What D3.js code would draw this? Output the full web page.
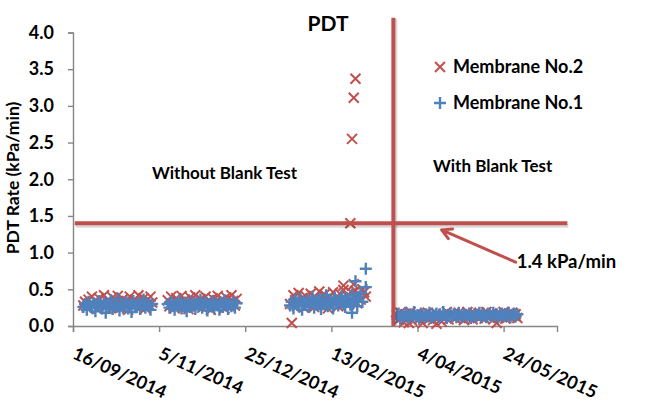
<!DOCTYPE html>
<html><head><meta charset="utf-8">
<script src="https://cdn.jsdelivr.net/npm/d3@7"></script>
<style>
body{margin:0;background:#fff}
text{font-family:Lato,"Open Sans",sans-serif;font-weight:bold;fill:#000}
</style>
</head><body><svg id="c" width="668" height="402"></svg>
<script>
// ---------- data ----------
const xTickLabels = ["16/09/2014","5/11/2014","25/12/2014","13/02/2015","4/04/2015","24/05/2015"];
const yTicks = [0,0.5,1,1.5,2,2.5,3,3.5,4];
const seriesNames = ["Membrane No.2","Membrane No.1"];

const datesA = ["2014-09-22","2014-09-23","2014-09-24","2014-09-25","2014-09-26","2014-09-27","2014-09-28","2014-09-29","2014-09-30","2014-10-01",
"2014-10-02","2014-10-03","2014-10-04","2014-10-05","2014-10-06","2014-10-07","2014-10-08","2014-10-09","2014-10-10","2014-10-11",
"2014-10-12","2014-10-13","2014-10-14","2014-10-15","2014-10-16","2014-10-17","2014-10-18","2014-10-19","2014-10-20","2014-10-21",
"2014-10-22","2014-10-23","2014-10-24","2014-10-25","2014-10-26","2014-10-27","2014-10-28","2014-10-29","2014-10-30","2014-10-31",
"2014-11-01"];
const m2A = [0.28,0.33,0.25,0.36,0.30,0.40,0.27,0.34,0.23,0.38,
0.31,0.29,0.42,0.26,0.35,0.32,0.24,0.39,0.30,0.28,
0.41,0.33,0.25,0.37,0.29,0.34,0.22,0.40,0.31,0.27,
0.36,0.30,0.42,0.26,0.33,0.38,0.24,0.35,0.29,0.40,
0.32];
const m1A = [0.26,0.30,0.22,0.33,0.28,0.25,0.31,0.20,0.29,0.34,
0.27,0.24,0.32,0.18,0.30,0.26,0.35,0.23,0.29,0.27,
0.37,0.21,0.31,0.25,0.28,0.33,0.24,0.30,0.19,0.34,
0.27,0.26,0.32,0.23,0.29,0.36,0.25,0.31,0.28,0.22,
0.30];

const datesB = ["2014-11-10","2014-11-11","2014-11-12","2014-11-13","2014-11-14","2014-11-15","2014-11-16","2014-11-17","2014-11-18","2014-11-19",
"2014-11-20","2014-11-21","2014-11-22","2014-11-23","2014-11-24","2014-11-25","2014-11-26","2014-11-27","2014-11-28","2014-11-29",
"2014-11-30","2014-12-01","2014-12-02","2014-12-03","2014-12-04","2014-12-05","2014-12-06","2014-12-07","2014-12-08","2014-12-09",
"2014-12-10","2014-12-11","2014-12-12","2014-12-13","2014-12-14","2014-12-15","2014-12-16","2014-12-17","2014-12-18","2014-12-19",
"2014-12-20"];
const m2B = [0.35,0.27,0.40,0.30,0.24,0.38,0.33,0.28,0.41,0.26,
0.36,0.31,0.23,0.39,0.29,0.34,0.42,0.27,0.32,0.37,
0.25,0.30,0.40,0.28,0.35,0.22,0.38,0.31,0.26,0.41,
0.33,0.29,0.36,0.24,0.39,0.30,0.27,0.42,0.34,0.28,
0.37];
const m1B = [0.30,0.25,0.33,0.28,0.22,0.31,0.27,0.35,0.24,0.29,
0.32,0.20,0.30,0.26,0.34,0.28,0.23,0.31,0.27,0.36,
0.25,0.29,0.33,0.21,0.30,0.27,0.34,0.24,0.31,0.28,
0.22,0.32,0.26,0.35,0.29,0.23,0.30,0.27,0.33,0.25,
0.31];

const datesC = ["2015-01-20","2015-01-21","2015-01-22","2015-01-23","2015-01-24","2015-01-25","2015-01-26","2015-01-27","2015-01-28","2015-01-29",
"2015-01-30","2015-01-31","2015-02-01","2015-02-02","2015-02-03","2015-02-04","2015-02-05","2015-02-06","2015-02-07","2015-02-08",
"2015-02-09","2015-02-10","2015-02-11","2015-02-12","2015-02-13","2015-02-14","2015-02-15","2015-02-16","2015-02-17","2015-02-18",
"2015-02-19","2015-02-20","2015-02-21","2015-02-22","2015-02-23","2015-02-24","2015-02-25","2015-02-26","2015-02-27","2015-02-28",
"2015-03-01","2015-03-02","2015-03-03"];
const m2C = [0.30,0.04,0.42,0.35,0.27,0.45,0.32,0.38,0.25,0.41,
0.29,0.36,0.44,0.31,0.26,0.39,0.34,0.47,0.28,0.37,
0.43,0.33,0.24,0.40,0.36,0.46,0.30,0.38,0.27,0.44,
0.35,0.49,0.32,0.41,0.29,0.37,0.45,0.34,0.48,0.31,
0.43,0.36,0.50];
const m1C = [0.28,0.33,0.24,0.36,0.30,0.27,0.38,0.22,0.32,0.29,
0.35,0.26,0.31,0.40,0.25,0.34,0.29,0.37,0.23,0.33,
0.30,0.42,0.27,0.36,0.31,0.24,0.39,0.33,0.28,0.35,
0.41,0.30,0.26,0.38,0.34,0.29,0.43,0.32,0.36,0.27,
0.40,0.45,0.33];

const extra2Dates = ["2015-02-24","2015-02-25","2015-02-26","2015-02-27","2015-02-20","2015-02-26","2015-03-04","2015-03-05"];
const extra2Values = [1.40,2.55,3.11,3.37,0.55,0.57,0.46,0.40];
const extra1Dates = ["2015-02-25","2015-02-27","2015-03-05","2015-03-05"];
const extra1Values = [0.18,0.61,0.53,0.78];

const datesD = ["2015-03-23","2015-03-24","2015-03-25","2015-03-26","2015-03-27","2015-03-28","2015-03-29","2015-03-30","2015-03-31","2015-04-01",
"2015-04-02","2015-04-03","2015-04-04","2015-04-05","2015-04-06","2015-04-07","2015-04-08","2015-04-09","2015-04-10","2015-04-11",
"2015-04-12","2015-04-13","2015-04-14","2015-04-15","2015-04-16","2015-04-17","2015-04-18","2015-04-19","2015-04-20","2015-04-21",
"2015-04-22","2015-04-23","2015-04-24","2015-04-25","2015-04-26","2015-04-27","2015-04-28","2015-04-29","2015-04-30","2015-05-01",
"2015-05-02","2015-05-03","2015-05-04","2015-05-05","2015-05-06","2015-05-07","2015-05-08","2015-05-09","2015-05-10","2015-05-11",
"2015-05-12","2015-05-13","2015-05-14","2015-05-15","2015-05-16","2015-05-17","2015-05-18","2015-05-19","2015-05-20","2015-05-21",
"2015-05-22","2015-05-23","2015-05-24","2015-05-25","2015-05-26","2015-05-27","2015-05-28","2015-05-29","2015-05-30","2015-05-31",
"2015-06-01"];
const m2D = [0.15,0.08,0.18,0.12,0.05,0.16,0.10,0.04,0.19,0.07,
0.14,0.11,0.17,0.09,0.13,0.04,0.16,0.12,0.18,0.10,
0.15,0.08,0.13,0.03,0.11,0.14,0.06,0.16,0.12,0.19,
0.09,0.15,0.13,0.17,0.10,0.14,0.18,0.11,0.16,0.08,
0.13,0.19,0.12,0.15,0.09,0.17,0.14,0.11,0.18,0.13,
0.16,0.10,0.19,0.14,0.12,0.17,0.09,0.15,0.04,0.11,
0.16,0.13,0.19,0.10,0.15,0.17,0.12,0.18,0.14,0.16,
0.11];
const m1D = [0.13,0.17,0.10,0.15,0.12,0.18,0.14,0.11,0.16,0.13,
0.19,0.12,0.15,0.10,0.17,0.14,0.12,0.16,0.13,0.18,
0.11,0.15,0.14,0.17,0.12,0.16,0.13,0.19,0.15,0.11,
0.14,0.17,0.12,0.16,0.15,0.13,0.18,0.14,0.12,0.16,
0.15,0.13,0.17,0.11,0.14,0.16,0.12,0.15,0.18,0.13,
0.16,0.14,0.12,0.17,0.15,0.13,0.18,0.14,0.16,0.12,
0.15,0.17,0.13,0.16,0.14,0.18,0.12,0.15,0.17,0.13,
0.16];

// annotation values
const threshold = 1.4;
const thresholdSpan = ["2014-09-17","2015-06-30"];
const dividerDate = "2015-03-21";
const dividerTop = 4.2;
const arrowFrom = ["2015-05-31", 0.87];
const arrowTo = ["2015-04-18", 1.31];
const xDomain = ["2014-09-16","2015-06-24"];

// ---------- chart ----------
const red = "#c0504d", blue = "#4f81bd", axisCol = "#868686";
const pISO = d3.utcParse("%Y-%m-%d");
const pTick = d3.utcParse("%d/%m/%Y");
const svg = d3.select("#c");

const x = d3.scaleUtc().domain(xDomain.map(pISO)).range([73, 557]);
const y = d3.scaleLinear().domain([0, 4]).range([326, 32.5]);

function zip(ds, vs){ return ds.map((d,i)=>({date:pISO(d), v:vs[i]})); }
const s2 = [].concat(zip(datesA,m2A), zip(datesB,m2B), zip(datesC,m2C), zip(extra2Dates,extra2Values), zip(datesD,m2D));
const s1 = [].concat(zip(datesA,m1A), zip(datesB,m1B), zip(datesC,m1C), zip(extra1Dates,extra1Values), zip(datesD,m1D));

// axes
const yAxis = svg.append("g").attr("transform","translate(73,0)")
  .call(d3.axisLeft(y).tickValues(yTicks).tickFormat(d3.format(".1f")).tickSize(5).tickPadding(14));
const xAxis = svg.append("g").attr("transform","translate(0,326)")
  .call(d3.axisBottom(x).tickValues(xTickLabels.map(pTick)).tickFormat((d,i)=>xTickLabels[i]).tickSize(6));
[yAxis,xAxis].forEach(g=>{
  g.select(".domain").attr("stroke",axisCol).attr("stroke-width",1.4);
  g.selectAll(".tick line").attr("stroke",axisCol).attr("stroke-width",1.4);
  g.selectAll("text").style("font-family","Lato, 'Open Sans', sans-serif").style("font-weight","bold").attr("font-size",18).attr("fill","#000");
});
xAxis.selectAll(".tick text").attr("x",0).attr("y",0).attr("dy",0)
  .attr("text-anchor","start").attr("transform","translate(-2,32) rotate(24)");

// markers
const crossPath = "M-5,-5L5,5M-5,5L5,-5";
const plusPath = "M-6,0H6M0,-6V6";
svg.append("g").selectAll("path").data(s2).join("path")
  .attr("d",crossPath).attr("transform",d=>`translate(${x(d.date)},${y(d.v)})`)
  .attr("stroke",red).attr("stroke-width",2).attr("fill","none");
svg.append("g").selectAll("path").data(s1).join("path")
  .attr("d",plusPath).attr("transform",d=>`translate(${x(d.date)},${y(d.v)})`)
  .attr("stroke",blue).attr("stroke-width",2.4).attr("fill","none");

// reference lines (with light shadow)
const hx1 = x(pISO(thresholdSpan[0])), hx2 = x(pISO(thresholdSpan[1])), hy = y(threshold);
const vx = x(pISO(dividerDate)), vy1 = y(dividerTop), vy2 = y(0);
const shadow = svg.append("g").attr("stroke","#000").attr("stroke-opacity",0.15).attr("stroke-width",4);
shadow.append("line").attr("x1",hx1+1).attr("x2",hx2+1).attr("y1",hy+2.5).attr("y2",hy+2.5);
shadow.append("line").attr("x1",vx+2).attr("x2",vx+2).attr("y1",vy1+1).attr("y2",vy2);
svg.append("line").attr("x1",hx1).attr("x2",hx2).attr("y1",hy).attr("y2",hy).attr("stroke",red).attr("stroke-width",4);
svg.append("line").attr("x1",vx).attr("x2",vx).attr("y1",vy1).attr("y2",vy2).attr("stroke",red).attr("stroke-width",4);

// arrow
const ax1 = x(pISO(arrowFrom[0])), ay1 = y(arrowFrom[1]);
const ax2 = x(pISO(arrowTo[0])), ay2 = y(arrowTo[1]);
const ang = Math.atan2(ay2-ay1, ax2-ax1);
const hl = 11, hw = 0.5;
svg.append("path")
  .attr("d",`M${ax1},${ay1}L${ax2},${ay2}M${ax2-hl*Math.cos(ang-hw)},${ay2-hl*Math.sin(ang-hw)}L${ax2},${ay2}L${ax2-hl*Math.cos(ang+hw)},${ay2-hl*Math.sin(ang+hw)}`)
  .attr("stroke",red).attr("stroke-width",3).attr("fill","none").attr("stroke-linecap","round").attr("stroke-linejoin","round");
svg.append("text").attr("x",ax1+1).attr("y",ay1+6).attr("font-size",18.5).text(`${threshold} kPa/min`);

// texts
svg.append("text").attr("x",328).attr("y",31).attr("text-anchor","middle").attr("font-size",21).text("PDT");
svg.append("text").attr("transform","translate(19,178) rotate(-90)").attr("text-anchor","middle").attr("font-size",17.5).text("PDT Rate (kPa/min)");
svg.append("text").attr("x",152).attr("y",179).attr("font-size",17).text("Without Blank Test");
svg.append("text").attr("x",433).attr("y",172).attr("font-size",17).text("With Blank Test");

// legend
const leg = svg.append("g");
[[crossPath,red,2,67],[plusPath,blue,2.4,103]].forEach((m,i)=>{
  leg.append("path").attr("d",m[0]).attr("transform",`translate(440,${m[3]})`).attr("stroke",m[1]).attr("stroke-width",m[2]).attr("fill","none");
  leg.append("text").attr("x",453).attr("y",m[3]+6).attr("font-size",18).text(seriesNames[i]);
});
</script></body></html>
